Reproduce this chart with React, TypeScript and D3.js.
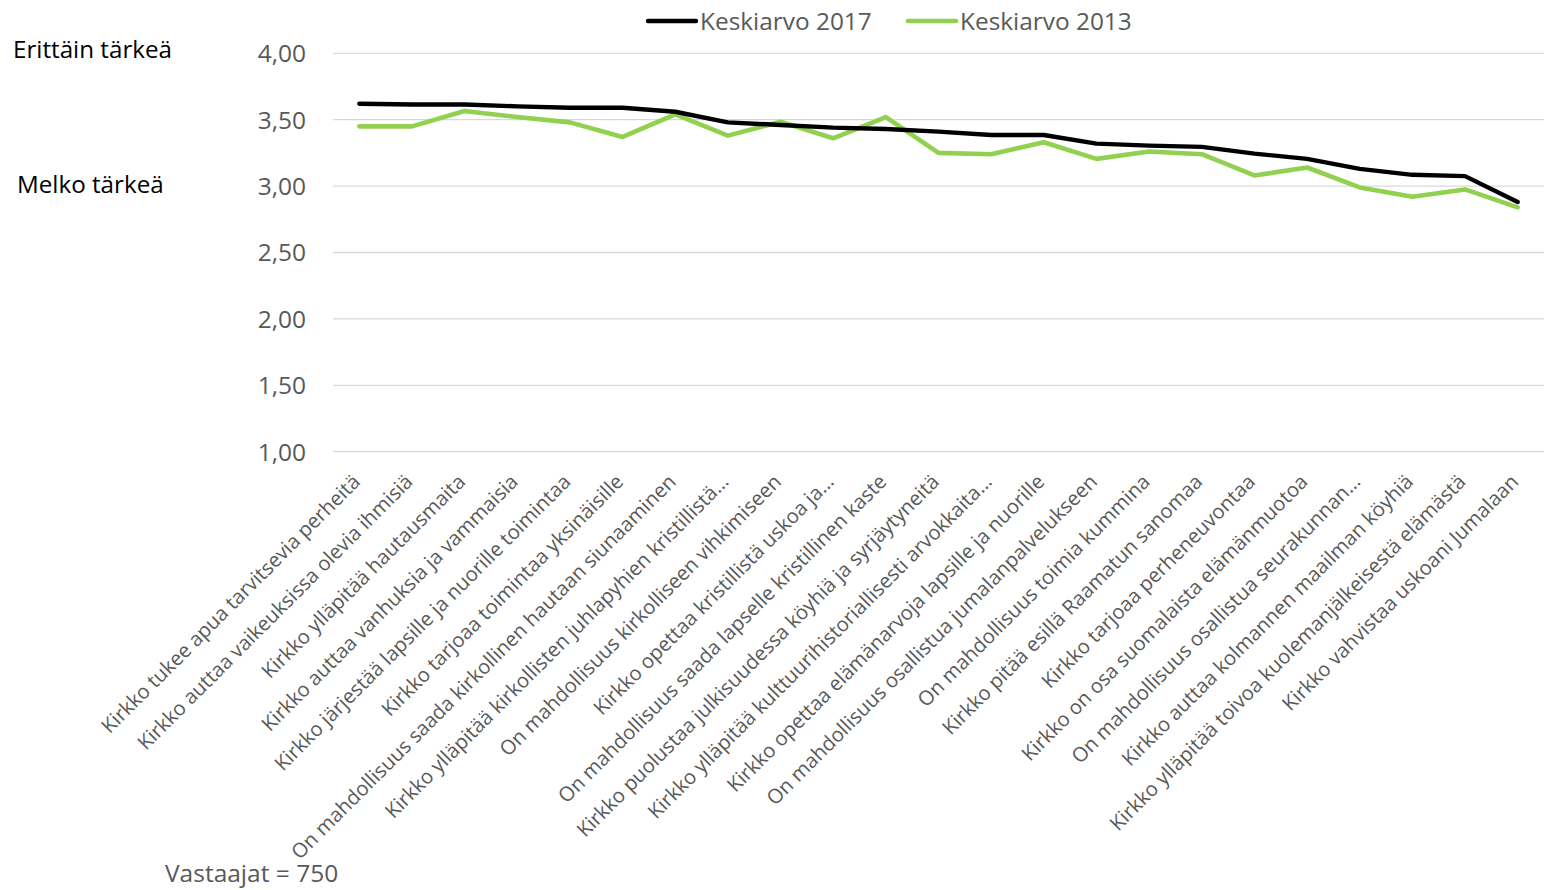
import React from "react";
import * as d3 from "d3";

const categories: string[] = [
  "Kirkko tukee apua tarvitsevia perheitä",
  "Kirkko auttaa vaikeuksissa olevia ihmisiä",
  "Kirkko ylläpitää hautausmaita",
  "Kirkko auttaa vanhuksia ja vammaisia",
  "Kirkko järjestää lapsille ja nuorille toimintaa",
  "Kirkko tarjoaa toimintaa yksinäisille",
  "On mahdollisuus saada kirkollinen hautaan siunaaminen",
  "Kirkko ylläpitää kirkollisten juhlapyhien kristillistä…",
  "On mahdollisuus kirkolliseen vihkimiseen",
  "Kirkko opettaa kristillistä uskoa ja…",
  "On mahdollisuus saada lapselle kristillinen kaste",
  "Kirkko puolustaa julkisuudessa köyhiä ja syrjäytyneitä",
  "Kirkko ylläpitää kulttuurihistoriallisesti arvokkaita…",
  "Kirkko opettaa elämänarvoja lapsille ja nuorille",
  "On mahdollisuus osallistua jumalanpalvelukseen",
  "On mahdollisuus toimia kummina",
  "Kirkko pitää esillä Raamatun sanomaa",
  "Kirkko tarjoaa perheneuvontaa",
  "Kirkko on osa suomalaista elämänmuotoa",
  "On mahdollisuus osallistua seurakunnan…",
  "Kirkko auttaa kolmannen maailman köyhiä",
  "Kirkko ylläpitää toivoa kuolemanjälkeisestä elämästä",
  "Kirkko vahvistaa uskoani Jumalaan",
];

const values2017: number[] = [
  3.62, 3.615, 3.615, 3.6, 3.59, 3.59, 3.56, 3.48, 3.46, 3.44, 3.43, 3.41,
  3.385, 3.385, 3.32, 3.305, 3.295, 3.245, 3.205, 3.13, 3.085, 3.075, 2.88,
];

const values2013: number[] = [
  3.45, 3.45, 3.565, 3.52, 3.48, 3.37, 3.54, 3.38, 3.485, 3.36, 3.52, 3.25,
  3.24, 3.33, 3.205, 3.26, 3.24, 3.08, 3.14, 2.99, 2.92, 2.975, 2.84,
];

const yTicks: number[] = [1, 1.5, 2, 2.5, 3, 3.5, 4];
const seriesNames: string[] = ["Keskiarvo 2017", "Keskiarvo 2013"];
const sideLabels: string[] = ["Erittäin tärkeä", "Melko tärkeä"];
const respondentsNote = "Vastaajat = 750";

const FONT = "'Open Sans', 'DejaVu Sans', sans-serif";
const GREY = "#595959";
const BLACK_LINE = "#000000";
const GREEN_LINE = "#92d050";

export default function App() {
  const W = 1551;
  const H = 890;
  const plotLeft = 333;
  const plotRight = 1544;

  const x = d3
    .scaleBand<string>()
    .domain(categories)
    .range([plotLeft, plotRight])
    .padding(0);
  const cx = (c: string) => (x(c) ?? 0) + x.bandwidth() / 2;

  const y = d3.scaleLinear().domain([1, 4]).range([451.7, 53.3]);

  const line = d3
    .line<number>()
    .x((_, i) => cx(categories[i]))
    .y((d) => y(d));

  const fmt = (v: number) => d3.format(".2f")(v).replace(".", ",");

  return (
    <svg
      width={W}
      height={H}
      style={{ position: "absolute", left: 0, top: 0, background: "#fff" }}
      fontFamily={FONT}
    >
      <rect x={0} y={0} width={W} height={H} fill="#fff" />
      {yTicks.map((t) => (
        <line
          key={"g" + t}
          x1={plotLeft}
          x2={plotRight}
          y1={y(t)}
          y2={y(t)}
          stroke="#d9d9d9"
          strokeWidth={1.3}
        />
      ))}
      {yTicks.map((t) => (
        <text
          key={"t" + t}
          x={306}
          y={y(t)}
          dy="0.36em"
          textAnchor="end"
          fontSize={24.5}
          fill={GREY}
        >
          {fmt(t)}
        </text>
      ))}
      <text x={13} y={58} fontSize={24.2} fill="#000">
        {sideLabels[0]}
      </text>
      <text x={17} y={193} fontSize={24.2} fill="#000">
        {sideLabels[1]}
      </text>
      <path
        d={line(values2013) ?? ""}
        fill="none"
        stroke={GREEN_LINE}
        strokeWidth={4.6}
        strokeLinejoin="round"
        strokeLinecap="round"
      />
      <path
        d={line(values2017) ?? ""}
        fill="none"
        stroke={BLACK_LINE}
        strokeWidth={4.4}
        strokeLinejoin="round"
        strokeLinecap="round"
      />
      {categories.map((c) => (
        <text
          key={c}
          transform={`translate(${cx(c) + 2},${483}) rotate(-45)`}
          textAnchor="end"
          fontSize={20.2}
          fill={GREY}
        >
          {c}
        </text>
      ))}
      <line x1={648} x2={696} y1={21} y2={21} stroke={BLACK_LINE} strokeWidth={4.4} strokeLinecap="round" />
      <text x={700} y={29.5} fontSize={24.4} fill={GREY}>
        {seriesNames[0]}
      </text>
      <line x1={908} x2={956} y1={21} y2={21} stroke={GREEN_LINE} strokeWidth={4.6} strokeLinecap="round" />
      <text x={960} y={29.5} fontSize={24.4} fill={GREY}>
        {seriesNames[1]}
      </text>
      <text x={165} y={882} fontSize={24.5} fill={GREY}>
        {respondentsNote}
      </text>
    </svg>
  );
}
